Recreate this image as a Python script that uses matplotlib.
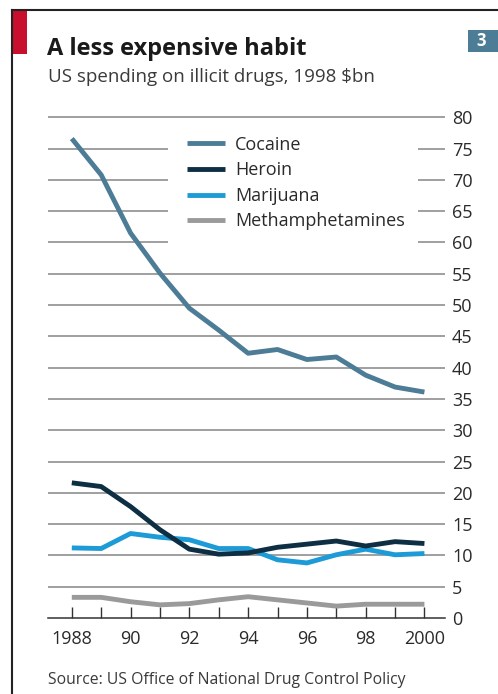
import matplotlib.pyplot as plt
from matplotlib.patches import Rectangle
from matplotlib.lines import Line2D

plt.rcParams['font.family'] = ['Open Sans', 'DejaVu Sans']

years = list(range(1988, 2001))
cocaine = [76.6, 70.8, 61.5, 55.1, 49.5, 46.0, 42.3, 42.9, 41.3, 41.7, 38.8, 36.9, 36.1]
heroin = [21.6, 21.0, 17.8, 14.1, 11.0, 10.2, 10.4, 11.3, 11.8, 12.3, 11.5, 12.2, 11.9]
marijuana = [11.2, 11.1, 13.5, 12.9, 12.5, 11.1, 11.1, 9.3, 8.8, 10.1, 11.0, 10.1, 10.3]
meth = [3.3, 3.3, 2.6, 2.1, 2.3, 2.9, 3.4, 2.9, 2.4, 1.9, 2.2, 2.2, 2.2]

series = [
    ("Cocaine", cocaine, "#4d7c96"),
    ("Heroin", heroin, "#0e2f43"),
    ("Marijuana", marijuana, "#1d9bd7"),
    ("Methamphetamines", meth, "#9a9a9a"),
]

yticks = list(range(0, 85, 5))
xlabels = {1988: "1988", 1990: "90", 1992: "92", 1994: "94", 1996: "96", 1998: "98", 2000: "2000"}

W, H = 498, 694
fig = plt.figure(figsize=(W / 100, H / 100), dpi=100)
fig.patch.set_facecolor("white")

ax = fig.add_axes([48 / W, 1 - 618 / H, (445 - 48) / W, (618 - 117.3) / H])
x0, x1 = 1987.19, 2000.70
ax.set_xlim(x0, x1)
ax.set_ylim(0, 80)

# gridlines, broken where the key sits
gap_lo, gap_hi = 1991.27, 1999.77
for v in yticks[1:]:
    if 60 <= v <= 75:
        ax.hlines(v, x0, gap_lo, color="#858585", lw=1.1, zorder=1)
        ax.hlines(v, gap_hi, x1, color="#858585", lw=1.1, zorder=1)
    else:
        ax.hlines(v, x0, x1, color="#858585", lw=1.1, zorder=1, clip_on=False)

for name, vals, col in series[::-1]:
    ax.plot(years, vals, color=col, lw=3.5, solid_capstyle="butt", zorder=3, clip_on=False)

for s in ["top", "left", "right"]:
    ax.spines[s].set_visible(False)
ax.spines["bottom"].set_color("#333333")
ax.spines["bottom"].set_linewidth(1.1)

ax.set_xticks(years)
ax.set_xticklabels([xlabels.get(y, "") for y in years])
ax.tick_params(axis="x", direction="in", length=8, width=1, color="#333333",
               pad=9, labelsize=13, labelcolor="#2a2a2a")

ax.yaxis.tick_right()
ax.set_yticks(yticks)
ax.tick_params(axis="y", length=0, pad=5, labelsize=13, labelcolor="#2a2a2a")

handles = [Line2D([], [], color=c, lw=3.5, solid_capstyle="butt") for _, _, c in series]
ax.legend(handles, [n for n, _, _ in series], loc="upper left",
          bbox_to_anchor=(0.341, 0.9705),
          frameon=False, fontsize=13, handlelength=2.1, handletextpad=0.55,
          labelspacing=0.42, borderaxespad=0, borderpad=0.2)
for t in ax.get_legend().get_texts():
    t.set_color("#2a2a2a")

# frame, red tab and number box
fig.add_artist(Line2D([12 / W, 1], [1 - 10 / H, 1 - 10 / H], color="#222222", lw=1.5))
fig.add_artist(Line2D([12 / W, 12 / W], [0, 1 - 10 / H], color="#222222", lw=1.5))
fig.add_artist(Rectangle((12.5 / W, 1 - 54 / H), 14 / W, 44 / H, color="#c8102e", lw=0))
fig.add_artist(Rectangle((468 / W, 1 - 52 / H), 30 / W, 22 / H, color="#4d7c96", lw=0))
fig.text(476 / W, 1 - 41 / H, "3", color="white", fontsize=12, fontweight="bold", va="center")

fig.text(47 / W, 1 - 55 / H, "A less expensive habit", fontsize=17, fontweight="bold",
         color="#1a1a1a", va="baseline")
fig.text(48 / W, 1 - 82 / H, "US spending on illicit drugs, 1998 $bn", fontsize=13.5,
         color="#3a3a3a", va="baseline")
fig.text(48 / W, 1 - 684 / H, "Source: US Office of National Drug Control Policy", fontsize=11.3,
         color="#3a3a3a", va="baseline")

fig.savefig("out.png", dpi=100)
